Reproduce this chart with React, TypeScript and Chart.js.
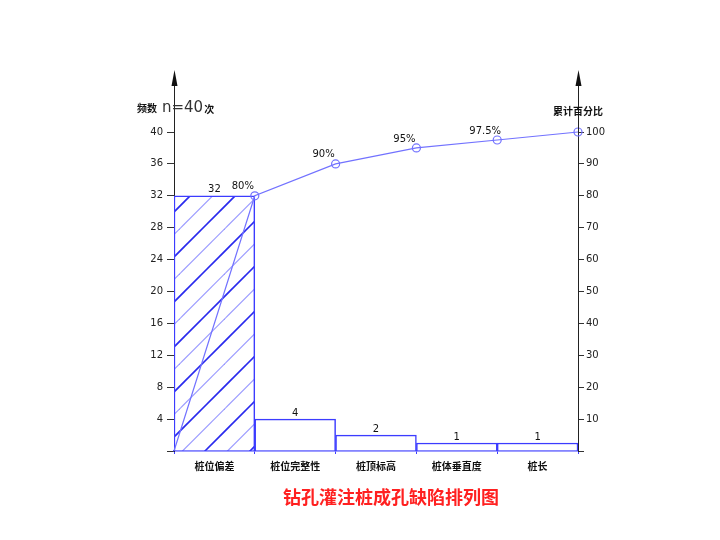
import React, { useEffect, useRef } from "react";
import { Chart, registerables } from "chart.js";

Chart.register(...registerables);

const categories = ["桩位偏差", "桩位完整性", "桩顶标高", "桩体垂直度", "桩长"];
const counts = [32, 4, 2, 1, 1];
const cumX = [0, 1, 2, 3, 4, 5];
const cumPercent = [0, 80, 90, 95, 97.5, 100];
const percentLabels = ["", "80%", "90%", "95%", "97.5%", ""];
const leftTitleA = "频数";
const leftTitleB = "n=40";
const leftTitleC = "次";
const rightTitle = "累计百分比";
const chartTitle = "钻孔灌注桩成孔缺陷排列图";

const BLUE = "#3c3cff";
const LINE_BLUE = "#7272ff";
const CJK = '"Noto Sans CJK SC", "DejaVu Sans", sans-serif';
const SANS = '"DejaVu Sans", "Liberation Sans", sans-serif';

function makeHatch(): CanvasPattern | string {
  const T = 45;
  const c = document.createElement("canvas");
  c.width = T;
  c.height = T;
  const ctx = c.getContext("2d");
  if (!ctx) return "white";
  ctx.fillStyle = "white";
  ctx.fillRect(0, 0, T, T);
  const drawLines = (offset: number, color: string, w: number) => {
    ctx.strokeStyle = color;
    ctx.lineWidth = w;
    for (let m = -2; m <= 3; m++) {
      const k = offset + m * T;
      ctx.beginPath();
      ctx.moveTo(k + T, -T);
      ctx.lineTo(k - 2 * T, 2 * T);
      ctx.stroke();
    }
  };
  drawLines(26, "#2a2aee", 1.6);
  drawLines(3.5, "#9a9aff", 1.2);
  return ctx.createPattern(c, "repeat") || "white";
}

const overlayPlugin = {
  id: "overlay",
  afterDraw(chart: any) {
    const { ctx, chartArea } = chart;
    ctx.save();
    const axisTop = 72;
    [chartArea.left, chartArea.right].forEach((x: number) => {
      ctx.strokeStyle = "#222";
      ctx.lineWidth = 1;
      ctx.beginPath();
      ctx.moveTo(x + 0.5, chartArea.top);
      ctx.lineTo(x + 0.5, axisTop + 8);
      ctx.stroke();
      ctx.fillStyle = "#111";
      ctx.beginPath();
      ctx.moveTo(x + 0.5, axisTop - 2);
      ctx.lineTo(x - 2.5, axisTop + 14);
      ctx.lineTo(x + 3.5, axisTop + 14);
      ctx.closePath();
      ctx.fill();
    });

    const barMeta = chart.getDatasetMeta(0);
    ctx.fillStyle = "#111";
    ctx.font = `10px ${SANS}`;
    ctx.textAlign = "center";
    ctx.textBaseline = "bottom";
    barMeta.data.forEach((el: any, i: number) => {
      ctx.fillText(String(counts[i]), el.x, el.y - 1);
    });

    const lineMeta = chart.getDatasetMeta(1);
    ctx.font = `10px ${SANS}`;
    lineMeta.data.forEach((el: any, i: number) => {
      if (!percentLabels[i]) return;
      ctx.fillText(percentLabels[i], el.x - 12, el.y - 4);
    });

    ctx.textAlign = "left";
    ctx.textBaseline = "middle";
    ctx.font = `bold 10px ${CJK}`;
    ctx.fillText(leftTitleA, 137, 108);
    ctx.font = `15px ${SANS}`;
    ctx.fillStyle = "#333";
    ctx.fillText(leftTitleB, 162, 108);
    const wB = ctx.measureText(leftTitleB).width;
    ctx.fillStyle = "#111";
    ctx.font = `bold 10px ${CJK}`;
    ctx.fillText(leftTitleC, 162 + wB + 1, 109);
    ctx.fillText(rightTitle, 553, 111);

    ctx.textAlign = "center";
    ctx.fillStyle = "#ff2020";
    ctx.font = `bold 18px ${CJK}`;
    ctx.fillText(chartTitle, 391, 497);
    ctx.restore();
  },
};

export default function App() {
  const ref = useRef<HTMLCanvasElement | null>(null);
  useEffect(() => {
    document.body.style.margin = "0";
    if (!ref.current) return;
    const hatch = makeHatch();
    const chart = new Chart(ref.current, {
      type: "bar",
      data: {
        labels: categories,
        datasets: [
          {
            type: "bar",
            data: counts,
            xAxisID: "x",
            yAxisID: "y",
            backgroundColor: counts.map((_, i) => (i === 0 ? hatch : "white")) as any,
            borderColor: BLUE,
            borderWidth: 1.5,
            categoryPercentage: 1,
            barPercentage: 1,
            grouped: false,
            order: 1,
          } as any,
          {
            type: "line",
            data: cumX.map((x, i) => ({ x, y: cumPercent[i] })),
            xAxisID: "x2",
            yAxisID: "y2",
            borderColor: LINE_BLUE,
            borderWidth: 1.2,
            pointRadius: cumX.map((_, i) => (i === 0 ? 0 : 4)),
            pointBackgroundColor: "rgba(0,0,0,0)",
            pointBorderColor: LINE_BLUE,
            pointBorderWidth: 1.2,
            tension: 0,
            clip: false,
            order: 0,
          } as any,
        ],
      },
      options: {
        responsive: false,
        animation: false,
        layout: { padding: { top: 132, left: 0, right: 0, bottom: 0 } },
        plugins: { legend: { display: false }, tooltip: { enabled: false }, title: { display: false } },
        scales: {
          x: {
            type: "category",
            position: "bottom",
            offset: true,
            grid: { drawOnChartArea: false, drawTicks: true, tickLength: 3, color: BLUE, offset: true },
            border: { color: BLUE, width: 1.5 },
            ticks: { color: "#111", font: { family: CJK, size: 10, weight: "bold" }, padding: 6, maxRotation: 0 },
            afterFit: (s: any) => { s.height = 89; },
          },
          x2: { type: "linear", min: 0, max: 5, offset: false, display: false, grid: { offset: false } },
          y: {
            type: "linear",
            position: "left",
            min: 0,
            max: 40,
            ticks: {
              stepSize: 4,
              color: "#222",
              font: { family: SANS, size: 10 },
              padding: 4,
              callback: (v: any) => (v === 0 ? "" : String(v)),
            },
            grid: { drawOnChartArea: false, tickLength: 7, color: "#333" },
            border: { color: "#222", width: 1 },
            afterFit: (s: any) => { s.width = 174; },
          },
          y2: {
            type: "linear",
            position: "right",
            min: 0,
            max: 100,
            ticks: {
              stepSize: 10,
              color: "#222",
              font: { family: SANS, size: 10 },
              padding: 2,
              callback: (v: any) => (v === 0 ? "" : String(v)),
            },
            grid: { drawOnChartArea: false, tickLength: 6, color: "#333" },
            border: { color: "#222", width: 1 },
            afterFit: (s: any) => { s.width = 142; },
          },
        },
      } as any,
      plugins: [overlayPlugin],
    });
    return () => chart.destroy();
  }, []);
  return <canvas ref={ref} width={720} height={540} style={{ display: "block" }} />;
}
